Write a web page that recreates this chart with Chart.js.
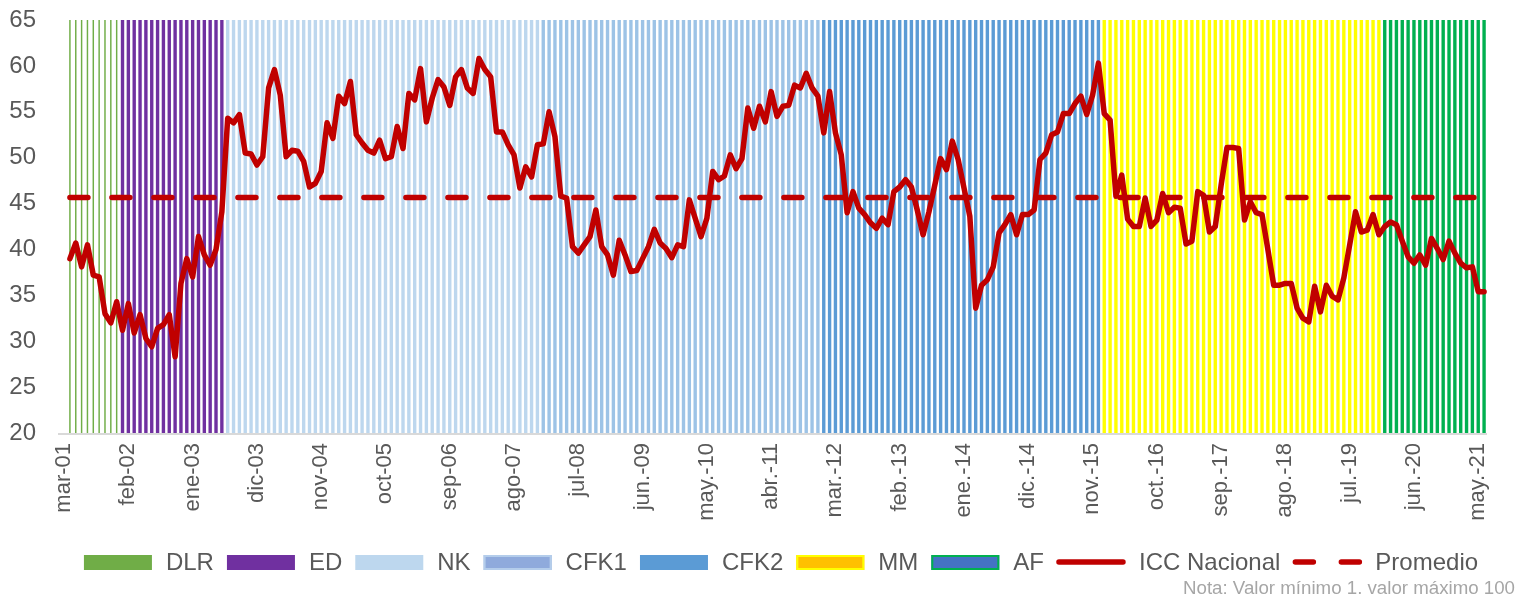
<!DOCTYPE html>
<html>
<head>
<meta charset="utf-8">
<script src="https://cdn.jsdelivr.net/npm/chart.js@4.4.1/dist/chart.umd.min.js"></script>
<style>
html,body{margin:0;padding:0;background:#fff;}
#wrap{position:relative;width:1518px;height:598px;}
</style>
</head>
<body>
<div id="wrap"><canvas id="c" width="1518" height="598"></canvas></div>
<script>
// ---------- DATA ----------
const monthNames = ['ene','feb','mar','abr','may','jun','jul','ago','sep','oct','nov','dic'];
const firstYear = 2001;
const firstMonthIndex = 2; // marzo
const monthCount = 243;   // mar-01 .. may-21
const categories = [];
for (let i = 0; i < monthCount; i++) {
  const m = (firstMonthIndex + i) % 12;
  const y = firstYear + Math.floor((firstMonthIndex + i) / 12);
  categories.push(monthNames[m] + '-' + String(y).slice(2));
}

const tickLabels = ['mar-01','feb-02','ene-03','dic-03','nov-04','oct-05','sep-06','ago-07','jul-08',
  'jun.-09','may.-10','abr.-11','mar.-12','feb.-13','ene.-14','dic.-14','nov.-15','oct.-16',
  'sep.-17','ago.-18','jul.-19','jun.-20','may.-21'];
const tickEvery = 11;

const iccNacional = [
  39.0, 40.7, 38.1, 40.5, 37.2, 37.0, 33.0, 32.0, 34.3, 31.2,
  34.1, 30.9, 32.9, 30.3, 29.4, 31.4, 31.8, 32.9, 28.3, 36.3,
  39.0, 37.0, 41.4, 39.4, 38.3, 40.0, 44.1, 54.3, 53.8, 54.7,
  50.5, 50.4, 49.2, 50.1, 57.6, 59.6, 56.8, 50.1, 50.8, 50.7,
  49.6, 46.8, 47.2, 48.5, 53.8, 52.1, 56.7, 55.9, 58.3, 52.5,
  51.6, 50.8, 50.5, 51.9, 49.9, 50.1, 53.4, 51.0, 57.0, 56.3,
  59.7,
  53.9, 56.5, 58.5, 57.7, 55.7, 58.8, 59.6, 57.6, 57.0, 60.8,
  59.6, 58.8, 52.8, 52.8, 51.4, 50.3, 46.7, 49.0, 47.9, 51.4,
  51.5, 55.0, 52.3, 45.8, 45.6, 40.3, 39.6, 40.5, 41.4, 44.3,
  40.3, 39.4, 37.2, 41.0, 39.4, 37.6, 37.7, 39.0, 40.3, 42.2,
  40.7, 40.1, 39.1, 40.5, 40.3, 45.4, 43.4, 41.4, 43.4, 48.5,
  47.6, 48.0, 50.3, 48.8, 49.9, 55.4, 53.2, 55.6, 53.9, 57.2,
  54.5, 55.6, 55.7, 57.9, 57.6, 59.2, 57.6, 56.7, 52.7, 57.2,
  52.7, 50.3, 44.0, 46.3, 44.5, 43.8, 42.9, 42.3, 43.4, 42.7,
  46.3, 46.8, 47.6, 46.8, 44.3, 41.6, 44.1, 47.0, 49.9, 48.7,
  51.8, 49.8, 46.7, 43.6, 33.6, 36.1, 36.7, 38.1, 41.8, 42.7,
  43.8, 41.6, 43.8, 43.8, 44.3, 49.8, 50.5, 52.5, 52.8, 54.8,
  54.8, 55.9, 56.7, 54.7, 56.8, 60.3, 54.8, 54.1, 45.8, 48.1,
  43.3,
  42.5, 42.5, 45.6, 42.5, 43.2, 46.1, 44.0, 44.6, 44.5, 40.6,
  40.9, 46.3, 45.9, 41.9, 42.5, 47.0, 51.1, 51.1, 51.0, 43.2,
  45.2, 44.0, 43.8, 40.0, 36.1, 36.1, 36.3, 36.3, 33.6, 32.5,
  32.1, 36.0, 33.2, 36.1, 34.9, 34.5, 36.9, 40.5, 44.1, 41.9,
  42.1, 43.8, 41.6, 42.5, 43.0, 42.7, 40.9, 39.2, 38.5, 39.4,
  38.3, 41.2, 40.1, 38.9, 40.9, 39.6, 38.5, 38.0, 38.1, 35.4,
  35.4
];
const promedioValue = 45.65;
const promedio = iccNacional.map(() => promedioValue);

const periodNames = ['DLR','ED','NK','CFK1','CFK2','MM','AF'];
const periodStart = [0, 9, 27, 81, 129, 177, 225];
const periodEnd   = [8, 26, 80, 128, 176, 224, 242];
const periodTop = 65;

// ---------- STYLES ----------
const stripeColor  = ['#70AD47','#7030A0','#BDD7EE','#9DC3E6','#5B9BD5','#FFFF00','#00B050'];
const legendFill   = ['#70AD47','#7030A0','#BDD7EE','#8FAADC','#5B9BD5','#FFC000','#4472C4'];
const legendBorder = [null, null, null, '#B4CDEB', null, '#FFFF00', '#00B050'];
const stripeWidth  = [0.25, 0.58, 0.58, 0.58, 0.58, 0.58, 0.58];
const FONT = "'Liberation Sans', Arial, sans-serif";
const TEXT = '#595959';
const RED = '#C00000';

const periodDatasets = periodNames.map((name, k) => ({
  type: 'bar',
  label: name,
  data: categories.map((_, i) => (i >= periodStart[k] && i <= periodEnd[k]) ? periodTop : null),
  backgroundColor: stripeColor[k],
  borderWidth: 0,
  grouped: false,
  barPercentage: stripeWidth[k],
  categoryPercentage: 1,
  order: 2
}));

const baselinePlugin = {
  id: 'baseline',
  beforeDatasetsDraw(chart) {
    const ctx = chart.ctx, a = chart.chartArea;
    ctx.save();
    ctx.strokeStyle = '#D9D9D9';
    ctx.lineWidth = 2;
    ctx.beginPath();
    ctx.moveTo(58, a.bottom + 1);
    ctx.lineTo(a.right, a.bottom + 1);
    ctx.stroke();
    ctx.restore();
  }
};

const legendPlugin = {
  id: 'customLegend',
  afterDraw(chart) {
    const ctx = chart.ctx;
    ctx.save();
    ctx.font = '24px ' + FONT;
    const items = periodNames.map((n, k) => ({ text: n, kind: 'box', k }));
    items.push({ text: 'ICC Nacional', kind: 'line' });
    items.push({ text: 'Promedio', kind: 'dash' });
    const boxW = 68, gapText = 14, gapItem = 13;
    let total = 0;
    items.forEach((it, idx) => {
      it.w = ctx.measureText(it.text).width;
      total += boxW + gapText + it.w + (idx < items.length - 1 ? gapItem : 0);
    });
    let x = 781 - total / 2;
    const cy = 562;
    items.forEach(it => {
      if (it.kind === 'box') {
        ctx.fillStyle = legendFill[it.k];
        ctx.fillRect(x, cy - 7, boxW, 15);
        if (legendBorder[it.k]) {
          ctx.strokeStyle = legendBorder[it.k];
          ctx.lineWidth = 2;
          ctx.strokeRect(x + 1, cy - 6, boxW - 2, 13);
        }
      } else {
        ctx.strokeStyle = RED;
        ctx.lineWidth = 5.5;
        ctx.lineCap = 'round';
        ctx.beginPath();
        if (it.kind === 'line') {
          ctx.moveTo(x + 2, cy); ctx.lineTo(x + boxW - 2, cy);
        } else {
          ctx.moveTo(x + 2, cy); ctx.lineTo(x + 20, cy);
          ctx.moveTo(x + 48, cy); ctx.lineTo(x + boxW - 2, cy);
        }
        ctx.stroke();
      }
      ctx.fillStyle = TEXT;
      ctx.textBaseline = 'middle';
      ctx.textAlign = 'left';
      ctx.fillText(it.text, x + boxW + gapText, cy + 1);
      x += boxW + gapText + it.w + gapItem;
    });
    ctx.font = '18.7px ' + FONT;
    ctx.fillStyle = '#A6A6A6';
    ctx.textAlign = 'right';
    ctx.fillText('Nota: Valor mínimo 1. valor máximo 100', 1515, 589);
    ctx.restore();
  }
};

new Chart(document.getElementById('c'), {
  type: 'bar',
  data: {
    labels: categories,
    datasets: [
      {
        type: 'line', label: 'ICC Nacional', data: iccNacional,
        borderColor: RED, borderWidth: 5.5, pointRadius: 0, tension: 0,
        borderJoinStyle: 'round', borderCapStyle: 'round', fill: false, order: 0
      },
      {
        type: 'line', label: 'Promedio', data: promedio,
        borderColor: RED, borderWidth: 5.5, pointRadius: 0, borderDash: [18, 24],
        borderCapStyle: 'round', fill: false, order: 1
      },
      ...periodDatasets
    ]
  },
  options: {
    responsive: false,
    animation: false,
    devicePixelRatio: 1,
    layout: { padding: { left: 0, right: 31, top: 20, bottom: 0 } },
    plugins: { legend: { display: false }, tooltip: { enabled: false } },
    scales: {
      x: {
        type: 'category',
        offset: true,
        grid: { display: false, drawTicks: false },
        border: { display: false },
        ticks: {
          autoSkip: false, minRotation: 90, maxRotation: 90, padding: 10, labelOffset: -6,
          color: TEXT, font: { family: FONT, size: 22 },
          callback: (v, i) => (i % tickEvery === 0 ? tickLabels[i / tickEvery] : null)
        },
        afterFit: s => { s.height = 165; s.paddingLeft = 0; s.paddingRight = 0; }
      },
      y: {
        min: 20, max: 65,
        grid: { display: false, drawTicks: false },
        border: { display: false },
        ticks: { stepSize: 5, padding: 31, color: TEXT, font: { family: FONT, size: 24 } },
        afterFit: s => { s.width = 67; s.paddingTop = 0; s.paddingBottom = 0; }
      }
    }
  },
  plugins: [baselinePlugin, legendPlugin]
});
</script>
</body>
</html>
